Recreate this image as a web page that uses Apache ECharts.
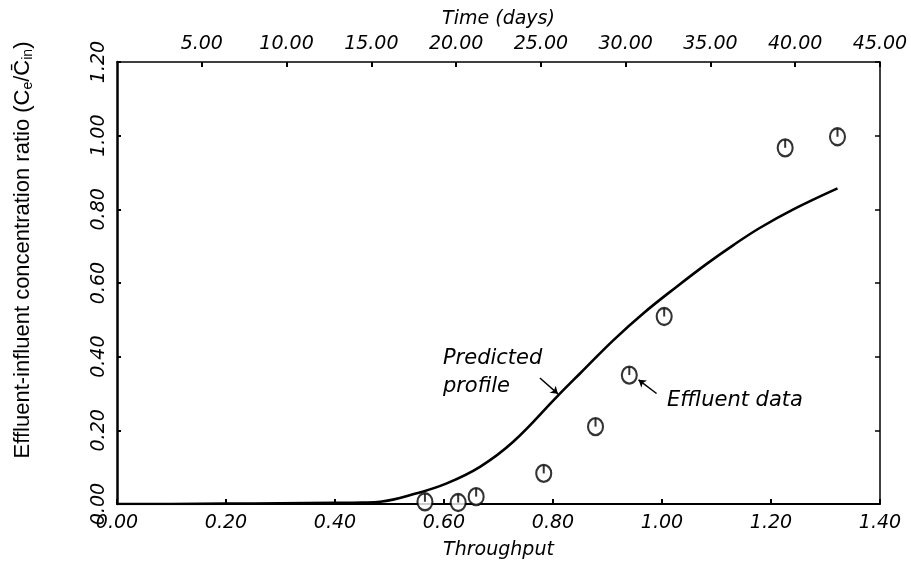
<!DOCTYPE html>
<html>
<head>
<meta charset="utf-8">
<title>Effluent breakthrough</title>
<script src="https://cdn.jsdelivr.net/npm/echarts@6/dist/echarts.min.js"></script>
<style>
    html, body { margin: 0; padding: 0; background: #fff; }
    #chart { width: 911px; height: 563px; }
</style>
</head>
<body>
<div id="chart"></div>
<script>
;
(function () {
    'use strict';

    // predicted profile (throughput vs Ce/Cin)
    var curveX = [0, 0.10, 0.20, 0.30, 0.40, 0.45, 0.483, 0.55, 0.605, 0.666, 0.727, 0.807,
        0.85, 0.911, 0.966, 1.027, 1.082, 1.131, 1.18, 1.241, 1.322];
    var curveY = [0, 0, 0.001, 0.002, 0.003, 0.004, 0.006, 0.029, 0.056, 0.101, 0.169, 0.291,
        0.355, 0.445, 0.518, 0.59, 0.652, 0.703, 0.750, 0.800, 0.857];

    // effluent data points
    var dataX = [0.565, 0.626, 0.659, 0.783, 0.878, 0.940, 1.004, 1.226, 1.322];
    var dataY = [0.006, 0.004, 0.02, 0.083, 0.21, 0.35, 0.509, 0.967, 0.997];

    var throughputTicks = [0, 0.2, 0.4, 0.6, 0.8, 1.0, 1.2, 1.4];
    var timeTicks = [0, 5, 10, 15, 20, 25, 30, 35, 40, 45];
    var ratioTicks = [0, 0.2, 0.4, 0.6, 0.8, 1.0, 1.2];

    var FONT = 'DejaVu Sans';
    var ink = '#000';

    function pairs(xs, ys) {
        var out = [];
        for (var i = 0; i < xs.length; i++) {
            out.push([xs[i], ys[i]]);
        }
        return out;
    }

    var tickLabel = {
        color: ink,
        fontFamily: FONT,
        fontStyle: 'italic',
        fontSize: 19
    };

    var chart = echarts.init(document.getElementById('chart'), null, {renderer: 'canvas'});

    var option = {
        backgroundColor: '#fff',
        animation: false,
        grid: {left: 117, right: 31, top: 62, bottom: 59, outerBoundsMode: 'none'},
        xAxis: [{
            type: 'value',
            position: 'bottom',
            min: throughputTicks[0],
            max: throughputTicks[throughputTicks.length - 1],
            interval: 0.2,
            name: 'Throughput',
            nameLocation: 'middle',
            nameGap: 37,
            nameTextStyle: {color: ink, fontFamily: FONT, fontStyle: 'italic', fontSize: 19},
            axisLine: {onZero: false, lineStyle: {color: ink, width: 2}},
            axisTick: {inside: true, length: 5, lineStyle: {color: ink, width: 2}},
            axisLabel: Object.assign({margin: 10, formatter: function (v) { return v.toFixed(2); }}, tickLabel),
            splitLine: {show: false}
        }, {
            type: 'value',
            position: 'top',
            min: timeTicks[0],
            max: timeTicks[timeTicks.length - 1],
            interval: 5,
            name: 'Time (days)',
            nameLocation: 'middle',
            nameGap: 33,
            nameTextStyle: {color: ink, fontFamily: FONT, fontStyle: 'italic', fontSize: 19},
            axisLine: {onZero: false, lineStyle: {color: ink, width: 1.5}},
            axisTick: {inside: true, length: 5, lineStyle: {color: ink, width: 2}},
            axisLabel: Object.assign({margin: 8, showMinLabel: false, formatter: function (v) { return v.toFixed(2); }}, tickLabel),
            splitLine: {show: false}
        }],
        yAxis: [{
            type: 'value',
            position: 'left',
            min: ratioTicks[0],
            max: ratioTicks[ratioTicks.length - 1],
            interval: 0.2,
            name: 'Effluent-influent concentration ratio (C{s|e}/C\u0304{s|in})',
            nameLocation: 'middle',
            nameGap: 82,
            nameTextStyle: {
                color: ink, fontFamily: 'Liberation Sans', fontSize: 22,
                padding: [0, 0, 0, 66],
                rich: {s: {fontFamily: 'Liberation Sans', fontSize: 14, verticalAlign: 'bottom', padding: [10, 0, 0, 0]}}
            },
            axisLine: {onZero: false, lineStyle: {color: ink, width: 2.5}},
            axisTick: {inside: true, length: 4, lineStyle: {color: ink, width: 2}},
            axisLabel: Object.assign({margin: 8, rotate: 90, formatter: function (v) { return v.toFixed(2); }}, tickLabel),
            splitLine: {show: false}
        }, {
            type: 'value',
            position: 'right',
            min: ratioTicks[0],
            max: ratioTicks[ratioTicks.length - 1],
            interval: 0.2,
            axisLine: {show: true, onZero: false, lineStyle: {color: ink, width: 1.5}},
            axisTick: {inside: true, length: 5, lineStyle: {color: ink, width: 1.5}},
            axisLabel: {show: false},
            splitLine: {show: false}
        }],
        series: [{
            name: 'Predicted profile',
            type: 'line',
            data: pairs(curveX, curveY),
            smooth: 0.4,
            showSymbol: false,
            lineStyle: {color: ink, width: 2.6},
            markLine: {
                silent: true,
                symbol: ['none', 'arrow'],
                symbolSize: 7,
                label: {show: false},
                lineStyle: {color: ink, width: 1.5, type: 'solid'},
                data: [
                    [{coord: [0.776, 0.342]}, {coord: [0.809, 0.299]}],
                    [{coord: [0.99, 0.30]}, {coord: [0.957, 0.337]}]
                ]
            }
        }, {
            name: 'Effluent data',
            type: 'scatter',
            data: pairs(dataX, dataY),
            symbol: 'circle',
            symbolSize: [15, 17],
            clip: false,
            z: 3,
            itemStyle: {color: '#fff', borderColor: ink, borderWidth: 2.2}
        }, {
            // the little tick inside each data circle
            name: 'Effluent data tick',
            type: 'scatter',
            data: pairs(dataX, dataY),
            symbol: 'rect',
            symbolSize: [2, 8],
            symbolOffset: [0, -4],
            clip: false,
            z: 4,
            itemStyle: {color: ink}
        }]
    };

    chart.setOption(option);

    // annotation texts, anchored on data coordinates
    var predictedAt = chart.convertToPixel({xAxisIndex: 0, yAxisIndex: 0}, [0.598, 0.432]);
    var effluentAt = chart.convertToPixel({xAxisIndex: 0, yAxisIndex: 0}, [1.009, 0.28]);

    chart.setOption({
        graphic: [{
            type: 'text',
            x: predictedAt[0],
            y: predictedAt[1],
            style: {
                text: 'Predicted\nprofile',
                fill: ink,
                font: 'italic 21px "DejaVu Sans"',
                lineHeight: 28,
                align: 'left',
                verticalAlign: 'top'
            }
        }, {
            type: 'text',
            x: effluentAt[0],
            y: effluentAt[1],
            style: {
                text: 'Effluent data',
                fill: ink,
                font: 'italic 21px "DejaVu Sans"',
                align: 'left',
                verticalAlign: 'middle'
            }
        }]
    });
})();
</script>
</body>
</html>
